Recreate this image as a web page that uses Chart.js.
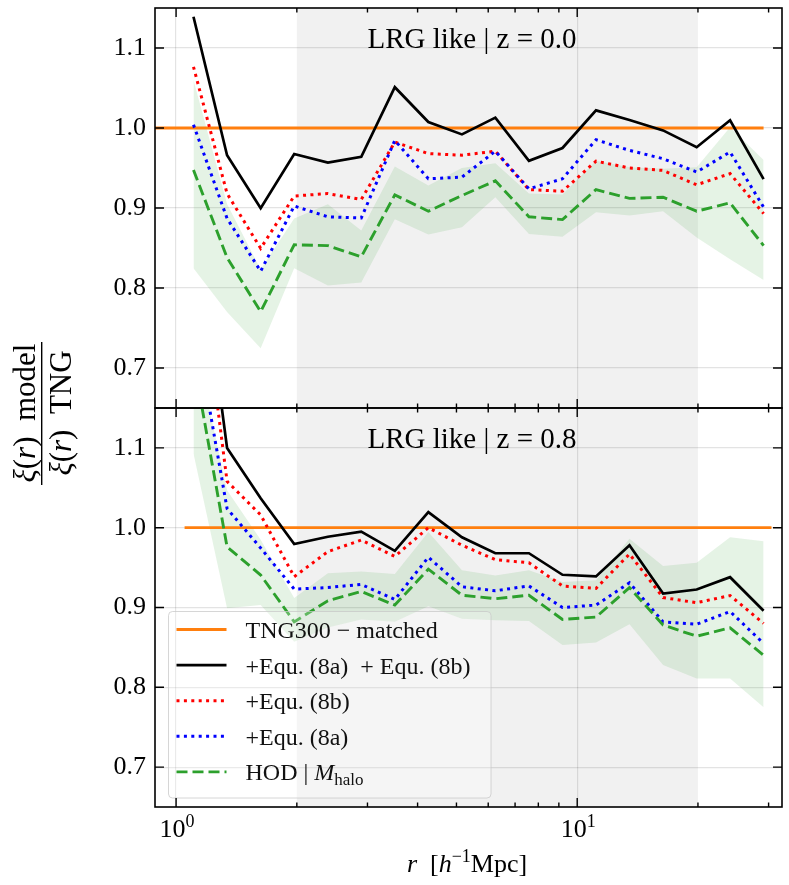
<!DOCTYPE html>
<html><head><meta charset="utf-8">
<script src="https://cdn.jsdelivr.net/npm/chart.js@4.4.0/dist/chart.umd.min.js"></script>
<style>
html,body{margin:0;padding:0;background:#fff;}
#wrap{position:relative;width:789px;height:885px;overflow:hidden;}
canvas{position:absolute;left:0;top:0;}
</style></head><body>
<div id="wrap"><canvas id="cTop" width="789" height="885"></canvas><canvas id="cBot" width="789" height="885"></canvas></div>
<script>
// ---------- data ----------
const rVals = [1.105, 1.34, 1.625, 1.97, 2.39, 2.895, 3.51, 4.255, 5.16, 6.25, 7.58, 9.19, 11.14, 13.5, 16.37, 19.85, 24.05, 29.15];

// z = 0.0 panel
const black00 = [1.139, 0.966, 0.8996, 0.9675, 0.9567, 0.964, 1.051, 1.0075, 0.992, 1.013, 0.959, 0.975, 1.022, 1.010, 0.997, 0.976, 1.0096, 0.936];
const red00   = [1.0765, 0.918, 0.8496, 0.915, 0.918, 0.9106, 0.9824, 0.968, 0.966, 0.971, 0.923, 0.921, 0.9586, 0.950, 0.947, 0.929, 0.943, 0.893];
const blue00  = [1.004, 0.887, 0.821, 0.9025, 0.889, 0.8876, 0.9845, 0.9365, 0.9386, 0.971, 0.924, 0.9365, 0.9854, 0.972, 0.9616, 0.945, 0.970, 0.901];
const green00 = [0.9475, 0.838, 0.7704, 0.854, 0.853, 0.839, 0.9164, 0.896, 0.9156, 0.934, 0.889, 0.8855, 0.923, 0.912, 0.9135, 0.896, 0.9064, 0.853];
const bandUp00 = [1.06, 0.905, 0.823, 0.887, 0.9046, 0.872, 0.952, 0.928, 0.95, 0.956, 0.918, 0.917, 0.959, 0.951, 0.949, 0.951, 1.001, 0.960];
const bandLo00 = [0.8246, 0.770, 0.7246, 0.8246, 0.803, 0.807, 0.886, 0.867, 0.876, 0.9135, 0.8675, 0.864, 0.8947, 0.8905, 0.896, 0.863, 0.836, 0.810];
const refX00 = [0.8, 29.15];
const refY00 = [1.0, 1.0];

// z = 0.8 panel
const black08 = [1.42, 1.10, 1.037, 0.9795, 0.9887, 0.995, 0.971, 1.0196, 0.988, 0.968, 0.968, 0.941, 0.939, 0.978, 0.9175, 0.9225, 0.938, 0.896];
const red08   = [1.39, 1.058, 1.016, 0.9386, 0.970, 0.9845, 0.964, 1.000, 0.978, 0.96, 0.956, 0.927, 0.924, 0.967, 0.9125, 0.906, 0.915, 0.88];
const blue08  = [1.264, 1.024, 0.9746, 0.923, 0.925, 0.929, 0.91, 0.963, 0.926, 0.921, 0.927, 0.900, 0.903, 0.931, 0.882, 0.879, 0.895, 0.855];
const green08 = [1.21, 0.976, 0.9407, 0.882, 0.9085, 0.920, 0.903, 0.948, 0.9154, 0.911, 0.9154, 0.885, 0.888, 0.925, 0.878, 0.864, 0.8746, 0.840];
const bandUp08 = [1.24, 1.047, 0.985, 0.912, 0.943, 0.945, 0.942, 0.9946, 0.9467, 0.940, 0.9467, 0.932, 0.934, 0.986, 0.952, 0.956, 0.988, 0.983];
const bandLo08 = [1.093, 0.899, 0.903, 0.857, 0.875, 0.885, 0.882, 0.9017, 0.886, 0.884, 0.883, 0.853, 0.856, 0.879, 0.828, 0.811, 0.811, 0.775];
const refX08 = [1.05, 30.5];
const refY08 = [1.0, 1.0];

const xTickVals = [1, 2, 3, 4, 5, 6, 7, 8, 9, 10, 20, 30];
const xMajor = [1, 10];
const yTickVals = [0.7, 0.8, 0.9, 1.0, 1.1];
const xRange = [0.886, 32.4];
const yRange = [0.65, 1.15];
const shadeRange = [2, 20];
const panelTitles = ['LRG like | z = 0.0', 'LRG like | z = 0.8'];
const seriesNames = ['TNG300 − matched', '+Equ. (8a)  + Equ. (8b)', '+Equ. (8b)', '+Equ. (8a)', 'HOD | M_halo'];

// ---------- helpers ----------
const SERIF = '"Liberation Serif", "Times New Roman", serif';
const f = (size, style) => (style ? style + ' ' : '') + size + 'px ' + SERIF;
function drawRich(ctx, segs, x, y, align) {
  let w = 0;
  for (const s of segs) { ctx.font = s[1]; w += ctx.measureText(s[0]).width; }
  let cx = align === 'center' ? x - w / 2 : (align === 'right' ? x - w : x);
  ctx.textAlign = 'left'; ctx.textBaseline = 'alphabetic';
  for (const s of segs) { ctx.font = s[1]; ctx.fillText(s[0], cx, y + (s[2] || 0)); cx += ctx.measureText(s[0]).width; }
}

const STY = {
  orange: {color: '#ff7f0e', width: 2.8, dash: []},
  black:  {color: '#000000', width: 2.7, dash: []},
  red:    {color: '#ff0000', width: 3, dash: [3, 4.4]},
  blue:   {color: '#0000ff', width: 3, dash: [3, 4.4]},
  green:  {color: '#2ca02c', width: 2.9, dash: [11, 5]}
};

function mkDatasets(black, red, blue, green, up, lo, refX, refY) {
  const pts = arr => rVals.map((r, i) => ({x: r, y: arr[i]}));
  const line = (label, data, s) => ({label, data, borderColor: s.color, borderWidth: s.width, borderDash: s.dash,
    borderCapStyle: 'butt', pointRadius: 0, fill: false, clip: 0, tension: 0});
  return [
    line(seriesNames[4], pts(green), STY.green),
    line(seriesNames[3], pts(blue), STY.blue),
    line(seriesNames[2], pts(red), STY.red),
    line(seriesNames[1], pts(black), STY.black),
    line(seriesNames[0], refX.map((r, i) => ({x: r, y: refY[i]})), STY.orange),
    {label: 'band upper', data: pts(up), borderWidth: 0, borderColor: 'rgba(0,0,0,0)', pointRadius: 0, fill: false},
    {label: 'band lower', data: pts(lo), borderWidth: 0, borderColor: 'rgba(0,0,0,0)', pointRadius: 0, fill: '-1',
      backgroundColor: 'rgba(44,160,44,0.12)'}
  ];
}

const panelPlugin = {
  id: 'panel',
  beforeDraw(chart) {
    const {ctx, chartArea: a, scales: {x}} = chart;
    const x0 = x.getPixelForValue(shadeRange[0]), x1 = x.getPixelForValue(shadeRange[1]);
    ctx.save();
    ctx.fillStyle = 'rgba(128,128,128,0.115)';
    ctx.fillRect(x0, a.top, x1 - x0, a.bottom - a.top);
    ctx.restore();
  },
  afterDraw(chart, args, opts) {
    const {ctx, chartArea: a, scales: {x, y}} = chart;
    ctx.save();
    ctx.fillStyle = '#000';
    // panel title
    drawRich(ctx, [[opts.title, f(29)]], 472, a.top + 39.5, 'center');

    if (opts.isBottom) {
      // legend
      const bx = 168.5, by = 611.5, bw = 322.5, bh = 186.5;
      ctx.beginPath();
      ctx.roundRect(bx, by, bw, bh, 4);
      ctx.fillStyle = 'rgba(255,255,255,0.25)';
      ctx.fill();
      ctx.strokeStyle = 'rgba(200,200,200,0.75)';
      ctx.lineWidth = 1;
      ctx.stroke();
      const entries = [
        {s: STY.orange, t: [[seriesNames[0], f(24)]]},
        {s: STY.black, t: [[seriesNames[1], f(24)]]},
        {s: STY.red, t: [[seriesNames[2], f(24)]]},
        {s: STY.blue, t: [[seriesNames[3], f(24)]]},
        {s: STY.green, t: [['HOD | ', f(24)], ['M', f(24, 'italic')], ['halo', f(17), 5]]}
      ];
      entries.forEach((e, i) => {
        const cy = 629.5 + i * 35.6;
        ctx.beginPath();
        ctx.strokeStyle = e.s.color; ctx.lineWidth = e.s.width; ctx.setLineDash(e.s.dash); ctx.lineCap = 'butt';
        ctx.moveTo(176.5, cy); ctx.lineTo(226.5, cy); ctx.stroke();
        ctx.setLineDash([]);
        ctx.fillStyle = '#111';
        drawRich(ctx, e.t, 245.5, cy + 8.5, 'left');
      });
    }

    // frame
    ctx.strokeStyle = '#000'; ctx.lineWidth = 1.6; ctx.setLineDash([]);
    ctx.strokeRect(a.left, a.top, a.right - a.left, a.bottom - a.top);
    // inward ticks
    ctx.lineWidth = 1.4;
    ctx.beginPath();
    xTickVals.forEach(v => {
      const px = x.getPixelForValue(v);
      if (px < a.left || px > a.right) return;
      const L = xMajor.includes(v) ? 9 : 4.5;
      ctx.moveTo(px, a.bottom); ctx.lineTo(px, a.bottom - L);
      ctx.moveTo(px, a.top); ctx.lineTo(px, a.top + L);
    });
    yTickVals.forEach(v => {
      const py = y.getPixelForValue(v);
      ctx.moveTo(a.left, py); ctx.lineTo(a.left + 9, py);
      ctx.moveTo(a.right, py); ctx.lineTo(a.right - 9, py);
    });
    ctx.stroke();

    if (opts.isBottom) {
      ctx.fillStyle = '#000';
      // x tick labels 10^0, 10^1
      xMajor.forEach((v, i) => {
        drawRich(ctx, [['10', f(26)], [String(i), f(18), -10]], x.getPixelForValue(v) + 1, 837, 'center');
      });
      // x axis title
      drawRich(ctx, [['r', f(26, 'italic')], ['\u2002[', f(26)], ['h', f(26, 'italic')], ['\u22121', f(18), -10], ['Mpc]', f(26)]], 467, 872, 'center');
      // y axis title (fraction), rotated
      const cyL = 413;
      ctx.save();
      ctx.translate(35, cyL); ctx.rotate(-Math.PI / 2);
      drawRich(ctx, [['\u03be', f(31, 'italic')], ['(', f(31)], ['r', f(31, 'italic')], [')', f(31)], ['\u2002model', f(31)]], 0, 0, 'center');
      ctx.restore();
      ctx.save();
      ctx.translate(70.5, cyL); ctx.rotate(-Math.PI / 2);
      drawRich(ctx, [['\u03be', f(31, 'italic')], ['(', f(31)], ['r', f(31, 'italic')], [')', f(31)], ['\u2002TNG', f(31)]], 0, 0, 'center');
      ctx.restore();
      ctx.beginPath(); ctx.lineWidth = 1.4; ctx.strokeStyle = '#000';
      ctx.moveTo(41.7, 342); ctx.lineTo(41.7, 485); ctx.stroke();
    }
    ctx.restore();
  }
};

const gridColor = 'rgba(0,0,0,0.11)';
function mkOptions(isBottom, title) {
  return {
    responsive: false, animation: false,
    layout: {padding: {left: 0, right: 7, top: isBottom ? 408 : 8, bottom: isBottom ? 0 : 477}},
    plugins: {legend: {display: false}, tooltip: {enabled: false}, panel: {title, isBottom}},
    scales: {
      x: {type: 'logarithmic', min: xRange[0], max: xRange[1], border: {display: false},
        grid: {drawTicks: false, lineWidth: 1.2,
          color: c => (c.tick && xMajor.includes(c.tick.value)) ? gridColor : 'rgba(0,0,0,0)'},
        ticks: {display: false},
        afterBuildTicks: s => { s.ticks = xTickVals.map(v => ({value: v, major: xMajor.includes(v)})); },
        afterFit: s => { s.height = isBottom ? 78 : 0; s.paddingLeft = 0; s.paddingRight = 0; }},
      y: {type: 'linear', min: yRange[0], max: yRange[1], border: {display: false},
        grid: {drawTicks: false, color: gridColor, lineWidth: 1.2},
        ticks: {padding: 9, color: '#000', font: {family: SERIF, size: 26}, callback: v => Number(v).toFixed(1)},
        afterBuildTicks: s => { s.ticks = yTickVals.map(v => ({value: v})); },
        afterFit: s => { s.width = 155; s.paddingTop = 0; s.paddingBottom = 0; }}
    }
  };
}

new Chart(document.getElementById('cTop'), {
  type: 'line',
  data: {datasets: mkDatasets(black00, red00, blue00, green00, bandUp00, bandLo00, refX00, refY00)},
  options: mkOptions(false, panelTitles[0]),
  plugins: [panelPlugin]
});
new Chart(document.getElementById('cBot'), {
  type: 'line',
  data: {datasets: mkDatasets(black08, red08, blue08, green08, bandUp08, bandLo08, refX08, refY08)},
  options: mkOptions(true, panelTitles[1]),
  plugins: [panelPlugin]
});
</script>
</body></html>
